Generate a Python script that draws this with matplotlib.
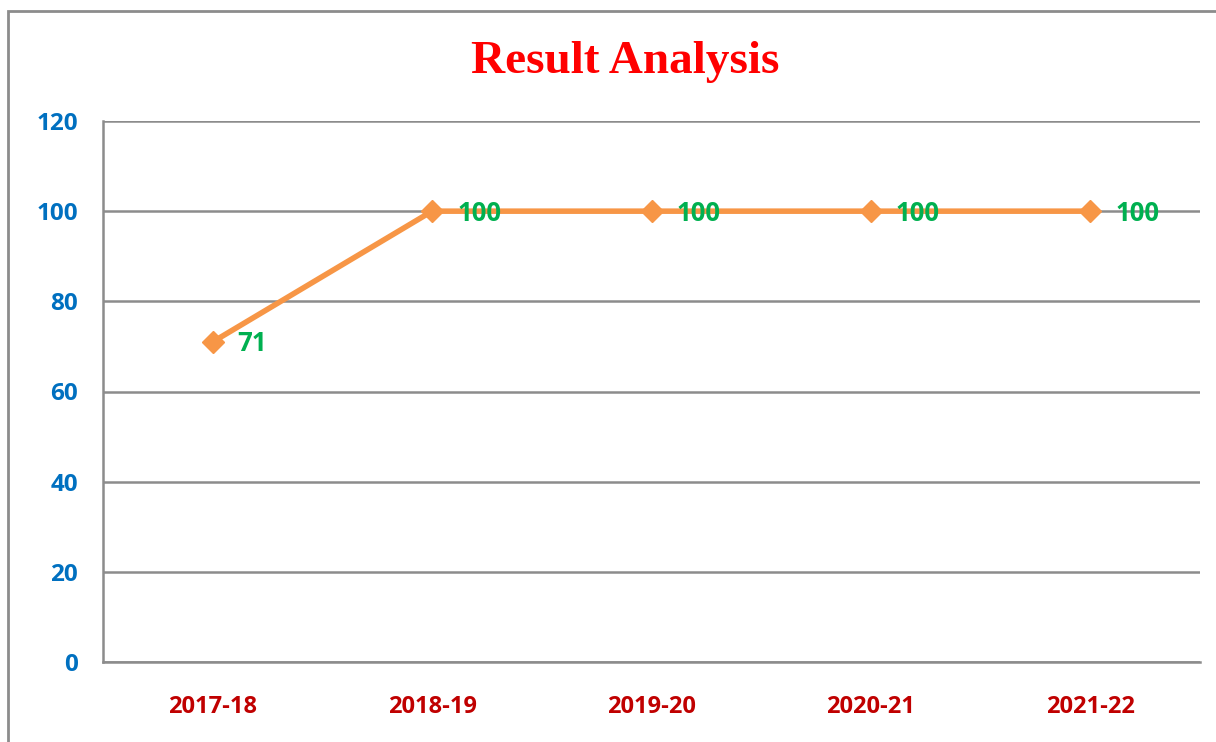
import matplotlib
matplotlib.use("Agg")
import matplotlib.pyplot as plt
from matplotlib.patches import Rectangle

categories = ["2017-18", "2018-19", "2019-20", "2020-21", "2021-22"]
values = [71, 100, 100, 100, 100]
yticks = [0, 20, 40, 60, 80, 100, 120]
title = "Result Analysis"

FONT = "Open Sans"
fig = plt.figure(figsize=(12.16, 7.42), dpi=100)
ax = fig.add_axes([103/1216, 1-662/742, (1200-103)/1216, (662-121)/742])

grid_c = "#8c8c8c"
x = list(range(len(categories)))
ax.plot(x, values, color="#F79646", lw=4, marker="D", markersize=11,
        markerfacecolor="#F79646", markeredgecolor="#F79646", zorder=3, solid_capstyle="butt")
for xi, v in zip(x, values):
    ax.annotate(str(v), (xi, v), xytext=(18, -1.5), textcoords="offset points",
                ha="left", va="center", color="#00B050", fontsize=18.5,
                fontweight="bold", family=FONT, zorder=4)

ax.set_xlim(-0.5, len(categories) - 0.5)
ax.set_ylim(0, 120)
ax.set_yticks(yticks)
ax.set_xticks(x)
ax.set_xticklabels(categories)
ax.yaxis.grid(True, color=grid_c, lw=1.8)
ax.set_axisbelow(True)
for s in ["top", "right"]:
    ax.spines[s].set_visible(False)
for s in ["left", "bottom"]:
    ax.spines[s].set_color(grid_c)
    ax.spines[s].set_linewidth(1.8)
ax.tick_params(length=0)
ax.tick_params(axis="y", pad=18, labelcolor="#0070C0")
ax.tick_params(axis="x", pad=23.5, labelcolor="#C00000")
for lab in ax.get_yticklabels():
    lab.set_fontweight("bold"); lab.set_family(FONT); lab.set_fontsize(17.5)
for lab in ax.get_xticklabels():
    lab.set_fontweight("bold"); lab.set_family(FONT); lab.set_fontsize(17)

fig.text(625/1216, 1-62/742, title, color="#FF0000", fontsize=34, fontweight="bold",
         family="Liberation Serif", ha="center", va="center")

# outer chart border (extends past the right and bottom edges)
fig.patches.append(Rectangle((8/1216, -0.05), 1.2, 1-11/742+0.05, transform=fig.transFigure,
                             fill=False, edgecolor="#8c8c8c", lw=2))

fig.savefig("out.png", dpi=100)
